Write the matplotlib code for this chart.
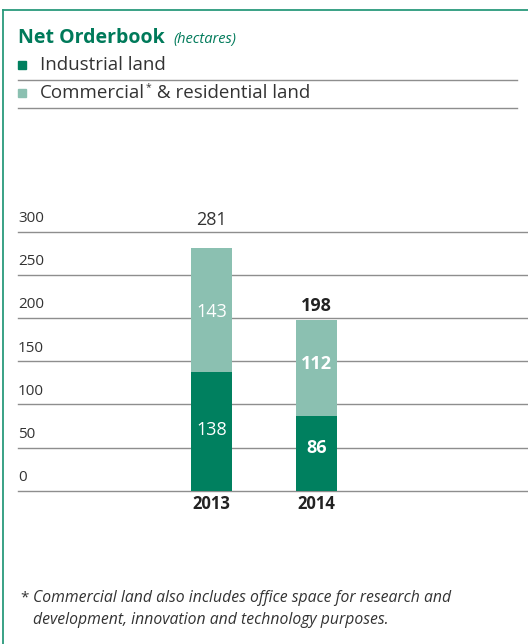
import matplotlib
matplotlib.use('Agg')
import matplotlib.pyplot as plt
from matplotlib.lines import Line2D
from matplotlib.patches import Rectangle

# data
years = ['2013', '2014']
industrial = [138, 86]
commercial = [143, 112]
totals = [281, 198]
yticks = [0, 50, 100, 150, 200, 250, 300]

DARK = '#00805f'
LIGHT = '#8bc0b1'
GREEN_TXT = '#007a5a'
BORDER = '#2a9a7c'
GRID = '#8e8e8e'
TXT = '#333333'

plt.rcParams['font.family'] = ['Open Sans', 'DejaVu Sans']

W, H = 528, 644
fig = plt.figure(figsize=(W / 100, H / 100), dpi=100)
renderer = fig.canvas.get_renderer()

def fx(px):
    return px / W

def fy(py):
    return 1 - py / H

# frame lines (left and top)
fig.add_artist(Line2D([fx(3), fx(3)], [fy(10), 0], color=BORDER, lw=1.3))
fig.add_artist(Line2D([fx(3), 1], [fy(10), fy(10)], color=BORDER, lw=1.3))

# title + legend
fig.text(fx(18), fy(38), 'Net Orderbook', color=GREEN_TXT, fontsize=14,
         fontweight='bold', va='center')
fig.text(fx(173), fy(39), '(hectares)', color=GREEN_TXT, fontsize=10.5,
         style='italic', va='center')

colors = [DARK, LIGHT]
ys = [65, 93]
for c, yy in zip(colors, ys):
    fig.add_artist(Rectangle((fx(18), fy(yy + 4)), fx(8), 8 / H, color=c))
    fig.add_artist(Line2D([fx(18), fx(517)], [fy(yy + 15), fy(yy + 15)],
                          color=GRID, lw=1.0))
fig.text(fx(40), fy(65), 'Industrial land', color=TXT, fontsize=13.5,
         va='center')
t1 = fig.text(fx(40), fy(93), 'Commercial', color=TXT, fontsize=13.5,
              va='center')
x1 = t1.get_window_extent(renderer=renderer).x1
t2 = fig.text(x1 / W + fx(1), fy(88), '*', color=TXT, fontsize=7.5,
              va='center')
x2 = t2.get_window_extent(renderer=renderer).x1
fig.text(x2 / W, fy(93), ' & residential land', color=TXT, fontsize=13.5,
         va='center')

# chart axes
y0, y300 = 490.7, 231.7
ax = fig.add_axes([fx(18), fy(y0), 1 - fx(18), (y0 - y300) / H])
ax.set_ylim(0, 300)
ax.set_xlim(-193.5 / 105, (510 - 193.5) / 105)
ax.axis('off')

for t in yticks:
    ax.axhline(t, color=GRID, lw=1.0, zorder=0, clip_on=False)
    ax.annotate(str(t), xy=(0, t), xycoords=('axes fraction', 'data'),
                xytext=(0, 4), textcoords='offset points',
                fontsize=11, color=TXT, va='bottom', ha='left')

x = range(len(years))
bw = 41 / 105
ax.bar(x, industrial, width=bw, color=DARK, zorder=2)
ax.bar(x, commercial, width=bw, bottom=industrial, color=LIGHT, zorder=2)

weights = ['normal', 'bold']
ind_off = [1, 6]
com_off = [-2, 5]
for i in x:
    w = weights[i]
    ax.text(i, industrial[i] / 2 + ind_off[i], str(industrial[i]),
            ha='center', va='center', color='white', fontsize=13,
            fontweight=w)
    ax.text(i, industrial[i] + commercial[i] / 2 + com_off[i],
            str(commercial[i]), ha='center', va='center', color='white',
            fontsize=13, fontweight=w)
    ax.text(i, totals[i] + (32 if i == 0 else 16), str(totals[i]),
            ha='center', va='center', color=TXT if i == 0 else '#222222',
            fontsize=13, fontweight=w, clip_on=False)
    ax.text(i, -15.5, years[i], ha='center', va='center', color='#222222',
            fontsize=12, fontweight='bold', clip_on=False)

# footnote
fig.text(fx(20), fy(598), '*', color=TXT, fontsize=11, va='center')
fig.text(fx(33), fy(598),
         'Commercial land also includes office space for research and',
         color=TXT, fontsize=11.3, style='italic', va='center')
fig.text(fx(33), fy(620),
         'development, innovation and technology purposes.',
         color=TXT, fontsize=11.3, style='italic', va='center')

fig.savefig('out.png', dpi=100)
